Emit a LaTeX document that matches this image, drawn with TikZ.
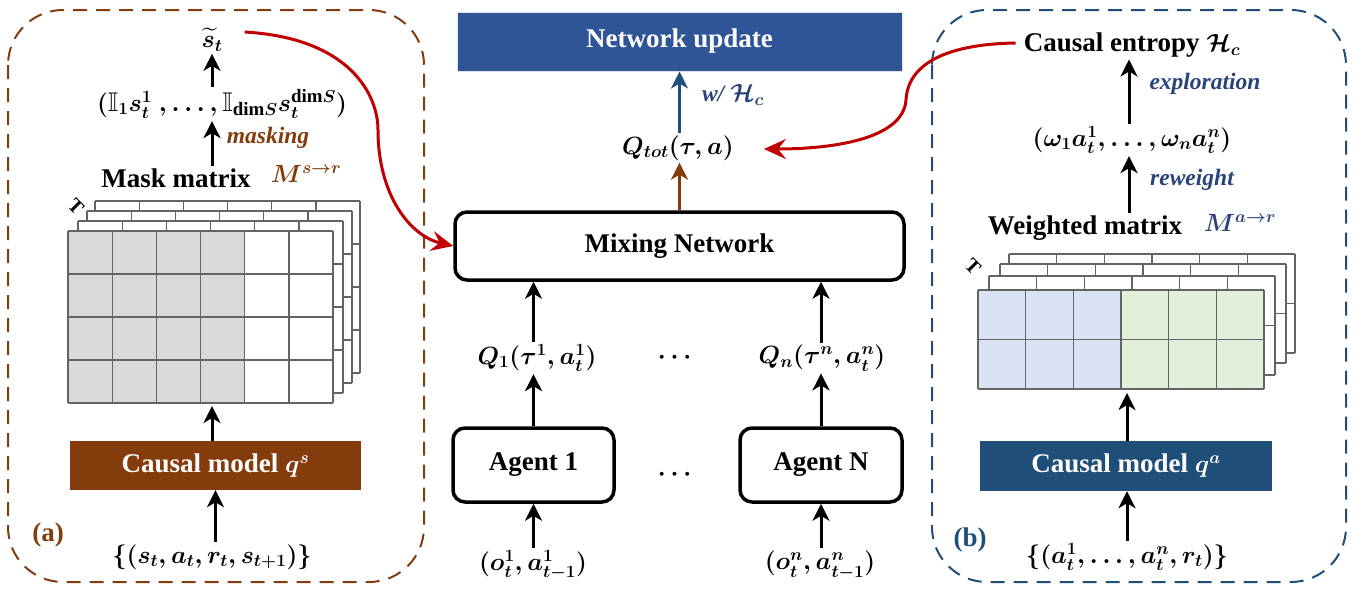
\documentclass[tikz,border=0pt]{standalone}
\usepackage{fontspec}
\setmainfont{Liberation Serif}
\usepackage{amsmath,amssymb}
\usetikzlibrary{arrows.meta,calc}
\definecolor{brn}{RGB}{132,60,12}
\definecolor{nblue}{RGB}{47,85,151}
\definecolor{dblue}{RGB}{31,78,121}
\definecolor{tblue}{RGB}{40,68,122}
\definecolor{lblue}{RGB}{218,227,243}
\definecolor{lgreen}{RGB}{226,239,218}
\definecolor{cred}{RGB}{192,0,0}
\definecolor{mgray}{RGB}{217,217,217}
\definecolor{gline}{RGB}{100,100,100}
\newcommand{\gridlayer}[7]{% x0 y0 ncol nrow cw rh fill
  \fill[#7] (#1,#2) rectangle ++(#3*#5,#4*#6);
  \foreach \i in {0,...,#3} {\draw[gline,line width=1.3pt] ({#1+\i*#5},#2) -- ++(0,#4*#6);}
  \foreach \j in {0,...,#4} {\draw[gline,line width=1.3pt] (#1,{#2+\j*#6}) -- ++(#3*#5,0);}
}
\begin{document}
\begin{tikzpicture}[x=1pt,y=-1pt,
  every node/.style={font=\fontsize{27}{32}\selectfont\bfseries\boldmath, inner sep=2pt},
  arr/.style={-{Stealth[length=17pt,width=17pt,inset=5pt]}, line width=3pt},
  redarr/.style={-{Stealth[length=22pt,width=20pt,inset=8pt]}, line width=3pt, cred},
  dbox/.style={line width=2pt, dash pattern=on 14pt off 9pt, rounded corners=55pt},
  lbl/.style={font=\fontsize{23.5}{28}\selectfont\bfseries\itshape\boldmath},
  rbox/.style={draw, line width=3.5pt, rounded corners=12pt}
]
\useasboundingbox (0,0) rectangle (1354,589);
% dashed group boxes
\draw[dbox, brn] (8,10) rectangle (424,582);
\draw[dbox, dblue] (932,10) rectangle (1346,582);

% ---------- left panel ----------
\node (st) at (212,40) {$\widetilde{s}_t$};
\node (ind) at (222,104) {$(\mathbb{I}_1 s_t^1\ , \dots , \mathbb{I}_{\mathrm{dim}S} s_t^{\mathrm{dim}S})$};
\node (mask) at (176,178) {Mask matrix};
\node[brn, font=\fontsize{26}{30}\selectfont\bfseries\itshape\boldmath] (Msr) at (306,174) {$M^{s\rightarrow r}$};
\node[brn, lbl] (masking) at (268,138) {masking};
\foreach \dx/\dy in {27/-30,19/-20,10/-10} {\gridlayer{68+\dx}{231+\dy}{6}{4}{44.17}{43}{white}}
\fill[white] (68,231) rectangle ++(265,172);
\fill[mgray] (68,231) rectangle ++(176.7,172);
\foreach \i in {0,...,6} {\draw[gline,line width=1.3pt] ({68+\i*44.17},231) -- ++(0,172);}
\foreach \j in {0,...,4} {\draw[gline,line width=1.3pt] (68,{231+\j*43}) -- ++(265,0);}
\node[rotate=-45, font=\fontsize{20}{24}\selectfont\bfseries] (TL) at (76,207) {T};
\coordinate (gridL) at (212,406);
\node[fill=brn, text=white, minimum width=291pt, minimum height=49pt] (cms) at (215.5,465.5) {Causal model $q^s$};
\node (inS) at (212,557) {$\{(s_t, a_t, r_t, s_{t+1})\}$};
\node[brn, font=\fontsize{27}{30}\selectfont\bfseries] (la) at (48,535) {(a)};
\draw[arr] (inS.north -| cms) -- (cms.south);
\draw[arr] (cms.north -| gridL) -- (gridL);
\draw[arr] (mask.north -| st) -- (ind.south -| st);
\draw[arr] (ind.north -| st) -- (st.south);

% ---------- center ----------
\node[fill=nblue, text=white, draw=lblue, line width=1pt, minimum width=445pt, minimum height=59pt] (nu) at (679.5,41.5) {Network update};
\node (qtot) at (678,148) {$Q_{tot}(\tau, a)$};
\node[rbox, minimum width=449pt, minimum height=68pt] (mix) at (679.5,246) {Mixing Network};
\node (q1) at (537,358) {$Q_1(\tau^1, a_t^1)$};
\node (qd) at (677,358) {$\cdots$};
\node (qn) at (822,358) {$Q_n(\tau^n, a_t^n)$};
\node[rbox, minimum width=161pt, minimum height=74pt] (ag1) at (533.5,465) {Agent 1};
\node (ad) at (677,475) {$\cdots$};
\node[rbox, minimum width=162pt, minimum height=74pt] (agn) at (821,465) {Agent N};
\node (o1) at (533,565) {$(o_t^1, a_{t-1}^1)$};
\node (on) at (820,565) {$(o_t^n, a_{t-1}^n)$};
\node[tblue, lbl] (wh) at (733,95) {w/ $\mathcal{H}_c$};
\draw[arr, dblue] (qtot.north -| nu) -- (nu.south);
\draw[arr, brn] (mix.north) -- (qtot.south -| mix);
\draw[arr] (q1.north -| ag1) -- (mix.south -| ag1);
\draw[arr] (qn.north -| agn) -- (mix.south -| agn);
\draw[arr] (ag1.north) -- (q1.south -| ag1);
\draw[arr] (agn.north) -- (qn.south -| agn);
\draw[arr] (o1.north -| ag1) -- (ag1.south);
\draw[arr] (on.north -| agn) -- (agn.south);

% ---------- right panel ----------
\node (ce) at (1132,45) {Causal entropy $\mathcal{H}_c$};
\node[tblue, lbl] (expl) at (1205,84) {exploration};
\node (om) at (1132,140) {$(\omega_1 a_t^1, \dots , \omega_n a_t^n)$};
\node[tblue, lbl] (rew) at (1192,180) {reweight};
\node (wm) at (1085,228) {Weighted matrix};
\node[tblue, font=\fontsize{26}{30}\selectfont\bfseries\itshape\boldmath] (Mar) at (1240,223) {$M^{a\rightarrow r}$};
\foreach \dx/\dy in {31/-36,22/-26,11/-14} {\gridlayer{978+\dx}{290+\dy}{6}{2}{47.67}{49.5}{white}}
\fill[lblue] (978,290) rectangle ++(143,99);
\fill[lgreen] (1121,290) rectangle ++(143,99);
\foreach \i in {0,...,6} {\draw[gline,line width=1.3pt] ({978+\i*47.67},290) -- ++(0,99);}
\foreach \j in {0,...,2} {\draw[gline,line width=1.3pt] (978,{290+\j*49.5}) -- ++(286,0);}
\node[rotate=-45, font=\fontsize{20}{24}\selectfont\bfseries] (TR) at (973,267) {T};
\coordinate (gridR) at (1127,393);
\node[fill=dblue, text=white, minimum width=292pt, minimum height=50pt] (cma) at (1126,466) {Causal model $q^a$};
\node (inA) at (1127,557) {$\{(a_t^1, \dots , a_t^n, r_t)\}$};
\node[dblue, font=\fontsize{27}{30}\selectfont\bfseries] (lb) at (970,540) {(b)};
\draw[arr] (inA.north -| gridR) -- (cma.south -| gridR);
\draw[arr] (cma.north -| gridR) -- (gridR);
\draw[arr] (wm.north -| 1129,0) -- (om.south -| 1129,0);
\draw[arr] (om.north -| 1129,0) -- (ce.south -| 1129,0);

% ---------- red connectors ----------
\draw[redarr] ($(st.east)+(20,-8)$) .. controls (350,38) and (378,95) .. (378,130) .. controls (378,195) and (410,236) .. (mix.west);
\draw[redarr] ($(ce.west)+(-6,-2)$) .. controls (950,44) and (908,62) .. (906,100) .. controls (903,140) and (830,149) .. ($(qtot.east)+(28,1)$);
\end{tikzpicture}
\end{document}
